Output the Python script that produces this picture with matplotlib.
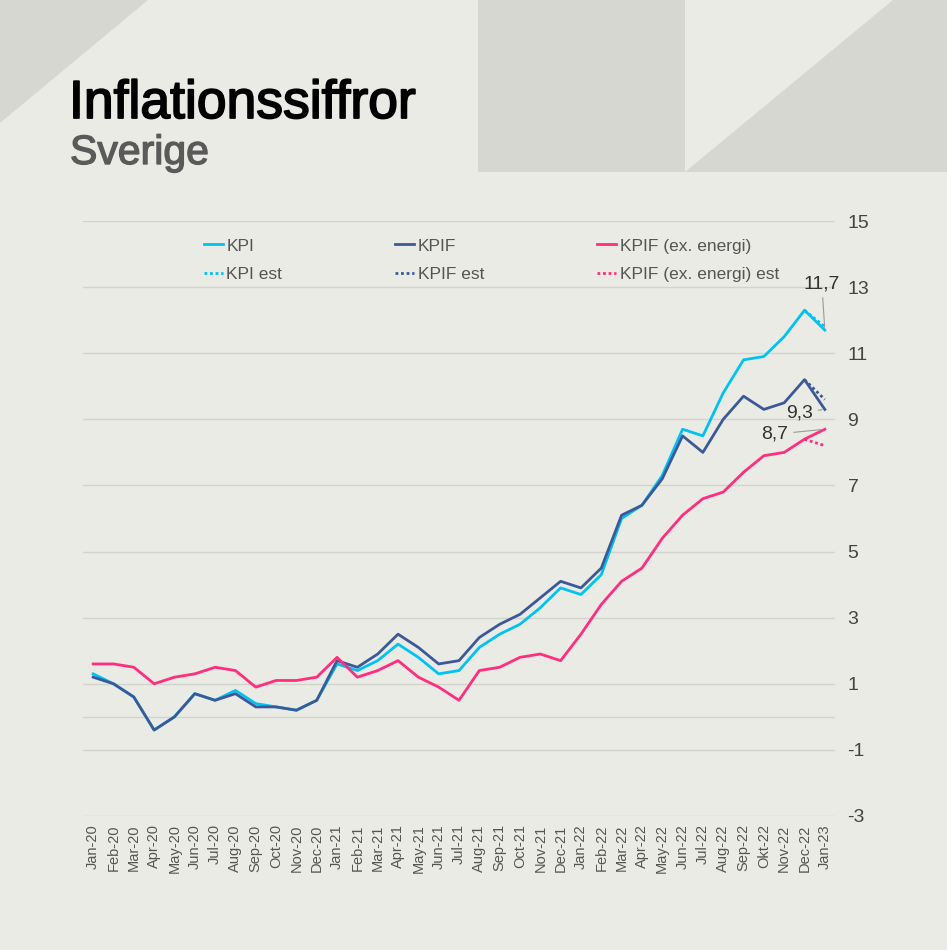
import numpy as np
import matplotlib
matplotlib.use("Agg")
import matplotlib.pyplot as plt
import matplotlib.patheffects as pe
from matplotlib.patches import Polygon

months = ["Jan-20","Feb-20","Mar-20","Apr-20","May-20","Jun-20","Jul-20","Aug-20","Sep-20","Oct-20","Nov-20","Dec-20",
          "Jan-21","Feb-21","Mar-21","Apr-21","May-21","Jun-21","Jul-21","Aug-21","Sep-21","Oct-21","Nov-21","Dec-21",
          "Jan-22","Feb-22","Mar-22","Apr-22","May-22","Jun-22","Jul-22","Aug-22","Sep-22","Okt-22","Nov-22","Dec-22",
          "Jan-23"]

kpi = [1.3, 1.0, 0.6, -0.4, 0.0, 0.7, 0.5, 0.8, 0.4, 0.3, 0.2, 0.5,
       1.6, 1.4, 1.7, 2.2, 1.8, 1.3, 1.4, 2.1, 2.5, 2.8, 3.3, 3.9,
       3.7, 4.3, 6.0, 6.4, 7.3, 8.7, 8.5, 9.8, 10.8, 10.9, 11.5, 12.3,
       11.7]
kpif = [1.2, 1.0, 0.6, -0.4, 0.0, 0.7, 0.5, 0.7, 0.3, 0.3, 0.2, 0.5,
        1.7, 1.5, 1.9, 2.5, 2.1, 1.6, 1.7, 2.4, 2.8, 3.1, 3.6, 4.1,
        3.9, 4.5, 6.1, 6.4, 7.2, 8.5, 8.0, 9.0, 9.7, 9.3, 9.5, 10.2,
        9.3]
kpif_ex = [1.6, 1.6, 1.5, 1.0, 1.2, 1.3, 1.5, 1.4, 0.9, 1.1, 1.1, 1.2,
           1.8, 1.2, 1.4, 1.7, 1.2, 0.9, 0.5, 1.4, 1.5, 1.8, 1.9, 1.7,
           2.5, 3.4, 4.1, 4.5, 5.4, 6.1, 6.6, 6.8, 7.4, 7.9, 8.0, 8.4,
           8.7]
# estimates (only last two months)
kpi_est = [np.nan] * 35 + [12.3, 11.8]
kpif_est = [np.nan] * 35 + [10.2, 9.6]
kpif_ex_est = [np.nan] * 35 + [8.4, 8.2]

yticks = [-3, -1, 1, 3, 5, 7, 9, 11, 13, 15]

BG = "#EBEBE6"
SHAPE = "#D7D7D1"
C_KPI = "#00C2F3"
C_KPIF = "#3B5998"
C_EX = "#FF2E7E"
GRID = "#D3D3CE"

plt.rcParams['font.family'] = ['Liberation Sans', 'DejaVu Sans']

fig = plt.figure(figsize=(9.47, 9.5), dpi=100)
fig.patch.set_facecolor(BG)

W, H = 947, 950
def fp(x, y):
    return (x / W, 1 - y / H)

for poly in [[(0, 0), (148, 0), (0, 123)],
             [(478, 0), (685, 0), (685, 172), (478, 172)],
             [(685, 172), (893, 0), (947, 0), (947, 172)]]:
    fig.patches.append(Polygon([fp(*p) for p in poly], closed=True,
                               transform=fig.transFigure, facecolor=SHAPE,
                               edgecolor='none', zorder=0))

fig.text(69 / W, 1 - 118 / H, "Inflationssiffror", fontsize=38.5,
         color="#000000", ha='left', va='baseline',
         path_effects=[pe.withStroke(linewidth=1.3, foreground="#000000")])
fig.text(70 / W, 1 - 164 / H, "Sverige", fontsize=29.5,
         color="#5A5A5A", ha='left', va='baseline',
         path_effects=[pe.withStroke(linewidth=1.0, foreground="#5A5A5A")])

ax = fig.add_axes([83 / W, 1 - 816 / H, (835 - 83) / W, (816 - 221) / H])
ax.set_facecolor(BG)
x = np.arange(len(months))

ax.plot(x, kpi, color=C_KPI, lw=2.0, label="KPI", zorder=3)
ax.plot(x, kpi_est, color=C_KPI, lw=2.0, ls=(0, (1, 1)), label="KPI est", zorder=2)
ax.plot(x, kpif, color=C_KPIF, lw=2.0, label="KPIF", zorder=3)
ax.plot(x, kpif_est, color=C_KPIF, lw=2.0, ls=(0, (1, 1)), label="KPIF est", zorder=2)
ax.plot(x, kpif_ex, color=C_EX, lw=2.0, label="KPIF (ex. energi)", zorder=3)
ax.plot(x, kpif_ex_est, color=C_EX, lw=2.0, ls=(0, (1, 1)), label="KPIF (ex. energi) est", zorder=2)

ax.set_xlim(-0.5, len(months) - 0.5)
ax.set_ylim(-3, 15)
ax.set_yticks(yticks)
ax.set_yticklabels([str(v) for v in yticks])
ax.yaxis.tick_right()
ax.tick_params(axis='y', length=0, pad=9, labelsize=14, labelcolor="#444444")
ax.set_xticks(x)
ax.set_xticklabels(months, rotation=90)
ax.tick_params(axis='x', length=0, pad=6, labelsize=10.5, labelcolor="#555555")
ax.grid(axis='y', color=GRID, lw=1)
ax.axhline(0, color=GRID, lw=1, zorder=1)
for s in ax.spines.values():
    s.set_visible(False)

leg = ax.legend(ncol=3, loc='upper left', bbox_to_anchor=(0.14, 0.997), frameon=False,
                fontsize=12.5, handlelength=1.1, handletextpad=0.2, columnspacing=6.5,
                labelspacing=0.75, labelcolor="#555555")

last = len(months) - 1
ann = dict(fontsize=14, color="#333333")
ax.annotate(f"{kpi[last]:.1f}".replace('.', ','), xy=(last, kpi[last]), xytext=(last - 0.15, 12.85),
            ha='center', va='bottom', arrowprops=dict(arrowstyle='-', color='#999999', lw=0.8), **ann)
ax.annotate(f"{kpif[last]:.1f}".replace('.', ','), xy=(last, kpif[last]), xytext=(last - 0.6, 9.2),
            ha='right', va='center', arrowprops=dict(arrowstyle='-', color='#999999', lw=0.8), **ann)
ax.annotate(f"{kpif_ex[last]:.1f}".replace('.', ','), xy=(last, kpif_ex[last]), xytext=(last - 1.8, 8.55),
            ha='right', va='center', arrowprops=dict(arrowstyle='-', color='#999999', lw=0.8), **ann)

fig.savefig("out.png", dpi=100, facecolor=BG)
